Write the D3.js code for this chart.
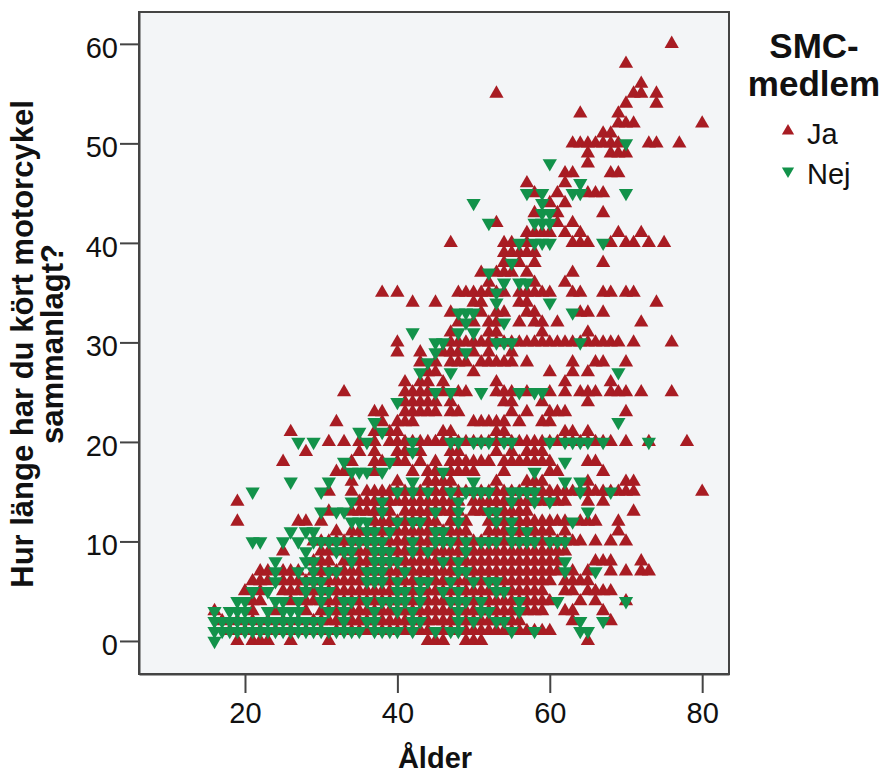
<!DOCTYPE html>
<html>
<head>
    <title>SMC-medlem</title>
    <script src="https://d3js.org/d3.v7.min.js"></script>
    <style>
        body { margin: 0; background: #fff; }
        text { font-family: "Liberation Sans", Arial, sans-serif; fill: #111; }
        .axis text { font-size: 29px; }
        .axis path, .axis line { stroke: #444; stroke-width: 2; }
        .title { font-size: 31px; font-weight: bold; }
        .legend-title { font-size: 35px; font-weight: bold; text-anchor: middle; }
        .legend-label { font-size: 29px; }
    </style>
</head>
<body>
    <svg id="chart" width="886" height="775"></svg>
    <script>
        // ages per row, row index = years ridden (0..60)
        var jaAges = [
            [19,21,22,23,26,31,44,45,46,49,50,51,65],
            [18,20,22,24,26,28,30,32,33,34,35,36,37,38,39,40,41,42,43,44,46,47,48,49,50,51,52,53,54,55,56,57,58,59,60],
            [17,19,21,23,25,27,29,30,31,32,33,34,35,36,37,38,39,40,41,42,43,44,45,46,47,48,49,50,51,52,53,54,55,56,63,68],
            [16,21,24,28,30,31,32,33,34,35,36,37,38,39,40,41,42,43,44,45,46,47,48,49,50,51,52,53,54,55,56,57,58,59,62,63,67],
            [21,22,26,28,29,30,31,32,33,34,35,36,37,38,39,40,41,42,43,44,45,46,47,48,49,50,51,52,53,54,55,56,57,58,59,60,64,66,70],
            [20,22,25,26,27,28,29,30,31,32,33,34,35,36,37,38,39,40,41,42,43,44,45,46,47,48,49,50,51,52,53,54,55,56,57,58,59,62,63,65,66,67,68],
            [21,22,23,25,26,27,28,29,30,31,32,33,34,35,36,37,38,39,40,41,42,43,44,45,46,47,48,49,50,51,52,53,54,55,56,57,58,59,60,62,63,64,65],
            [22,23,25,26,27,29,30,31,32,33,34,35,36,37,38,39,40,41,42,43,44,45,46,47,48,49,50,51,52,53,54,55,56,57,58,59,60,61,63,65,68,70,72,73],
            [29,30,31,33,34,35,36,37,38,39,40,41,42,43,44,45,46,47,48,49,50,51,52,53,54,55,56,57,58,59,60,61,66,67,68,72],
            [25,30,31,33,34,35,36,37,38,39,40,41,42,43,44,45,46,47,48,49,50,51,52,53,54,55,56,57,58,59,60,61,62],
            [29,30,31,32,33,34,35,36,37,38,39,40,41,42,43,44,45,46,47,48,49,50,51,52,53,54,55,56,57,58,59,60,61,62,63,64,66,68,70],
            [32,34,35,36,37,38,39,40,41,42,43,44,45,46,47,48,49,52,53,54,55,56,57,58,59,60,62,69],
            [19,27,28,30,37,38,39,40,41,42,43,44,45,47,48,49,52,53,54,55,56,57,58,59,60,61,62,64,65,66,69],
            [31,34,35,36,37,38,39,41,42,43,44,45,46,47,48,50,51,52,53,54,55,56,57,71],
            [19,35,36,37,38,39,40,41,42,43,44,45,46,47,48,50,51,52,53,54,55,56,57,58,59,60,61,62,65,67],
            [31,34,36,37,38,39,40,41,42,43,44,45,46,47,48,49,50,51,52,53,54,55,56,57,58,59,60,61,62,63,64,65,66,67,68,69,70,71,80],
            [34,40,44,45,46,47,53,57,58,59,65,70,71],
            [32,33,37,42,44,45,47,48,49,50,54,60,61,67],
            [25,34,37,38,40,41,43,45,47,48,49,50,51,52,54,55,56,57,58,59,60,65,66],
            [28,35,37,40,41,43,47,48,53,55,57,58,59],
            [31,33,35,37,39,40,41,42,43,44,45,46,47,48,49,50,51,52,53,54,55,56,57,58,59,60,61,62,63,64,65,66,67,68,70,73,78],
            [26,37,39,40,46,47,53,54,62,63,65],
            [32,38,40,41,42,50,51,52,53,54,56,59,60],
            [37,38,41,42,43,44,45,47,48,55,57,60,61,62,70],
            [41,42,43,44,45,47,54,55,59,65],
            [33,41,42,43,44,46,48,49,53,54,55,57,60,62,64,65,66,68,69,70,72,76],
            [41,43,44,46,53,62,68],
            [44,45,50,60,63,65],
            [43,45,47,48,49,51,52,53,54,55,57,63,66,67,70],
            [40,43,46,47,48,50,52,55],
            [40,47,48,49,50,51,52,53,54,55,56,57,58,59,60,61,62,63,64,65,66,67,68,69,71,76],
            [47,52,53,59,65],
            [48,50,52,53,56,58,59,61,72],
            [47,51,53,54,57,58,64,65,67],
            [42,45,50,51,56,57,74],
            [38,40,48,49,50,51,52,53,54,56,57,58,59,60,63,64,67,68,70,71],
            [52,58,62],
            [51,53,54,55,57,63],
            [54,56,58,67],
            [54,55,56,57,58],
            [47,54,55,57,63,64,65,68,70,71,73,75],
            [57,58,59,60,62,64,69,72],
            [53,61,63],
            [58,61,67],
            [60,62],
            [58,61,65,66,67],
            [57,62],
            [62,63,68,69],
            [65],
            [65,68,69,70],
            [63,64,65,66,67,68,69,73,74,77],
            [67,68],
            [69,70,71,80],
            [64,69],
            [70,74],
            [53,71,72,74],
            [72],
            [],
            [70],
            [],
            [76]
        ];

        var nejAges = [
            [16],
            [16,17,18,19,20,21,22,23,24,25,26,27,28,29,30,31,32,33,34,35,37,38,39,40,42,45,47,48,55,58,64,65],
            [16,17,18,19,20,21,22,23,24,25,26,27,28,29,30,33,36,37,42,43,48,50,53,54,64,67],
            [16,18,19,20,23,25,26,27,31,33,37,40,42,48,51,52,56],
            [19,20,24,25,27,30,33,34,36,38,39,40,41,43,47,48,49,51,56,61,70],
            [21,23,28,30,31,40,41,43,46,48,53,54],
            [24,28,29,30,36,37,38,40,43,44,47,50,52,53],
            [24,27,29,31,32,36,37,38,41,48,49,62,66],
            [24,28,29,34,37,38,39,40,46,48,62],
            [28,32,33,34,37,38,39,42,44,49],
            [21,22,25,27,29,30,31,32,34,35,36,37,38,42,45,46,47,49,51,52,53,55,56,57,58,60,61,62],
            [26,28,29,36,37,39,45,46,55,57],
            [34,35,36,40,42,43,48,53,55,63],
            [30,32,33,38,45,48,52,53,65],
            [34,38,48,55,58,60],
            [21,30,40,42,44,47,49,50,51,52,55,56,57,58,64,68],
            [26,31,42,50,62,64],
            [34,35,36,38,46,58],
            [33,39,62],
            [42],
            [27,29,36,42,47,48,50,51,52,54,55,60,62,63,64,65,67,73],
            [35,38],
            [37,69],
            [],
            [40],
            [45,47,51,56,58,59],
            [],
            [43,47,69],
            [44],
            [45,49],
            [45,46,53,54,55,64],
            [42,48,50],
            [49,54],
            [48,49,50,63],
            [53,60],
            [53],
            [54,56,57],
            [52],
            [55],
            [],
            [56,58,59,60,67],
            [],
            [52,58,59,60],
            [59,60],
            [50,59],
            [57,59,63,64,70],
            [64],
            [],
            [60],
            [],
            [70]
        ];

        var xTicks = [20, 40, 60, 80];
        var yTicks = [0, 10, 20, 30, 40, 50, 60];
        var legendLabels = ["Ja", "Nej"];
        var legendColors = ["#a81c23", "#12924a"];

        var plot = { left: 139, right: 729, top: 12, bottom: 674 };

        var x = d3.scaleLinear().domain([6.09, 83.52]).range([plot.left, plot.right]);
        var y = d3.scaleLinear().domain([-3.32, 63.2]).range([plot.bottom, plot.top]);

        var svg = d3.select("#chart");

        svg.append("rect")
            .attr("x", plot.left)
            .attr("y", plot.top)
            .attr("width", plot.right - plot.left)
            .attr("height", plot.bottom - plot.top)
            .attr("fill", "#f3f5f7")
            .attr("stroke", "#444")
            .attr("stroke-width", 2);

        svg.append("g")
            .attr("class", "axis")
            .attr("transform", "translate(0," + plot.bottom + ")")
            .call(d3.axisBottom(x).tickValues(xTicks).tickSize(19).tickSizeOuter(0).tickPadding(9));

        svg.append("g")
            .attr("class", "axis")
            .attr("transform", "translate(" + plot.left + ",0)")
            .call(d3.axisLeft(y).tickValues(yTicks).tickSize(19).tickSizeOuter(0).tickPadding(2))
            .selectAll("text").attr("dy", "0.46em");

        var triangle = d3.symbol().type(d3.symbolTriangle).size(88);

        function flatten(rows) {
            var pts = [];
            rows.forEach(function(ages, years) {
                ages.forEach(function(age) { pts.push([age, years]); });
            });
            return pts;
        }

        svg.append("g").selectAll("path")
            .data(flatten(jaAges))
            .enter().append("path")
            .attr("d", triangle)
            .attr("fill", legendColors[0])
            .attr("transform", function(d) { return "translate(" + x(d[0]) + "," + y(d[1]) + ")"; });

        svg.append("g").selectAll("path")
            .data(flatten(nejAges))
            .enter().append("path")
            .attr("d", triangle)
            .attr("fill", legendColors[1])
            .attr("transform", function(d) { return "translate(" + x(d[0]) + "," + y(d[1]) + ") rotate(180)"; });

        svg.append("text")
            .attr("class", "title")
            .style("font-size", "29px")
            .attr("x", 435)
            .attr("y", 768)
            .attr("text-anchor", "middle")
            .text("Ålder");

        var yTitle = svg.append("text")
            .attr("class", "title")
            .attr("text-anchor", "middle")
            .attr("transform", "translate(33,344) rotate(-90)");
        yTitle.append("tspan").attr("x", 0).attr("y", 0).text("Hur länge har du kört motorcykel");
        yTitle.append("tspan").attr("x", 0).attr("y", 30).text("sammanlagt?");

        svg.append("text").attr("class", "legend-title").attr("x", 814).attr("y", 58).text("SMC-");
        svg.append("text").attr("class", "legend-title").attr("x", 814).attr("y", 96).text("medlem");

        var legend = svg.selectAll(".legend")
            .data(legendLabels)
            .enter().append("g")
            .attr("class", "legend")
            .attr("transform", function(d, i) { return "translate(0," + (131 + i * 40) + ")"; });

        legend.append("path")
            .attr("d", d3.symbol().type(d3.symbolTriangle).size(65))
            .attr("fill", function(d, i) { return legendColors[i]; })
            .attr("transform", function(d, i) { return "translate(788,0)" + (i ? " rotate(180)" : ""); });

        legend.append("text")
            .attr("class", "legend-label")
            .attr("x", 807)
            .attr("y", 13)
            .text(function(d) { return d; });
    </script>
</body>
</html>
